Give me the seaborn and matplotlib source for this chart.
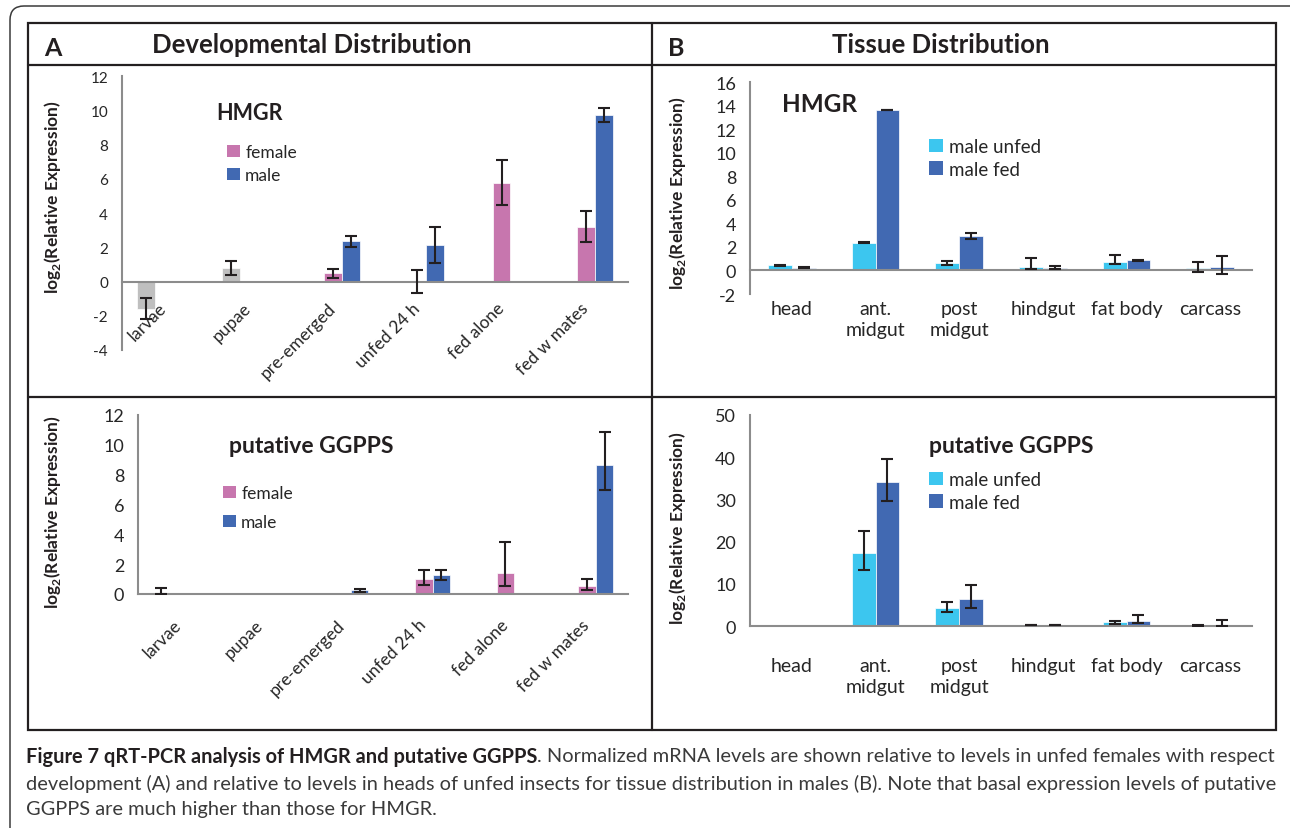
import numpy as np
import pandas as pd
import matplotlib
matplotlib.use('Agg')
import matplotlib.pyplot as plt
from matplotlib.lines import Line2D
from matplotlib.patches import Patch, Rectangle, FancyBboxPatch
from matplotlib.ticker import MultipleLocator
import seaborn as sns

# ---- data ----
dev_cats = ['larvae', 'pupae', 'pre-emerged', 'unfed 24 h', 'fed alone', 'fed w mates']
tis_cats = ['head', 'ant.\nmidgut', 'post\nmidgut', 'hindgut', 'fat body', 'carcass']

# HMGR, developmental (stage-only bars for larvae/pupae, then female/male)
hmgr_dev_stage = [-1.58, 0.78, None, None, None, None]
hmgr_dev_stage_lo = [0.63, 0.40, None, None, None, None]
hmgr_dev_stage_hi = [0.63, 0.41, None, None, None, None]
hmgr_dev_female = [None, None, 0.47, 0.0, 5.76, 3.18]
hmgr_dev_female_lo = [None, None, 0.26, 0.66, 1.30, 0.90]
hmgr_dev_female_hi = [None, None, 0.27, 0.68, 1.32, 0.93]
hmgr_dev_male = [None, None, 2.34, 2.14, 0.0, 9.70]
hmgr_dev_male_lo = [None, None, 0.30, 1.05, None, 0.38]
hmgr_dev_male_hi = [None, None, 0.30, 1.04, None, 0.41]

# putative GGPPS, developmental
ggpps_dev_stage = [0.03, 0.02, None, None, None, None]
ggpps_dev_stage_lo = [0.03, None, None, None, None, None]
ggpps_dev_stage_hi = [0.35, None, None, None, None, None]
ggpps_dev_female = [None, None, 0.02, 1.02, 1.38, 0.52]
ggpps_dev_female_lo = [None, None, None, 0.40, 0.82, 0.25]
ggpps_dev_female_hi = [None, None, None, 0.58, 2.12, 0.48]
ggpps_dev_male = [None, None, 0.24, 1.26, 0.02, 8.68]
ggpps_dev_male_lo = [None, None, 0.10, 0.30, None, 1.68]
ggpps_dev_male_hi = [None, None, 0.10, 0.37, None, 2.16]

# HMGR, tissue
hmgr_tis_unfed = [0.45, 2.35, 0.65, 0.31, 0.71, 0.17]
hmgr_tis_unfed_lo = [0.05, 0.03, 0.15, 0.17, 0.20, 0.34]
hmgr_tis_unfed_hi = [0.05, 0.03, 0.18, 0.77, 0.59, 0.54]
hmgr_tis_fed = [0.23, 13.62, 2.89, 0.20, 0.87, 0.31]
hmgr_tis_fed_lo = [0.03, 0.03, 0.23, 0.09, 0.05, 0.65]
hmgr_tis_fed_hi = [0.03, 0.03, 0.28, 0.17, 0.05, 0.88]

# putative GGPPS, tissue
ggpps_tis_unfed = [0.15, 17.2, 4.34, 0.25, 0.87, 0.10]
ggpps_tis_unfed_lo = [None, 3.87, 0.95, 0.08, 0.30, 0.08]
ggpps_tis_unfed_hi = [None, 5.35, 1.42, 0.08, 0.30, 0.08]
ggpps_tis_fed = [0.15, 34.2, 6.31, 0.25, 1.18, 0.35]
ggpps_tis_fed_lo = [None, 4.5, 1.97, 0.08, 0.55, 0.35]
ggpps_tis_fed_hi = [None, 5.35, 3.31, 0.08, 1.50, 1.00]

grey = '#BFBFBF'
pink = '#C776AE'
blue = '#4169B2'
cyan = '#3CC6EF'
ink = '#231F20'
axis_grey = '#8C8C8C'

sns.set_style('white')
plt.rcParams['font.family'] = ['Lato', 'DejaVu Sans']
plt.rcParams['mathtext.fontset'] = 'custom'
plt.rcParams['mathtext.rm'] = 'Lato'
plt.rcParams['mathtext.bf'] = 'Lato:bold'
plt.rcParams['axes.unicode_minus'] = False

W, H = 1290, 829
fig = plt.figure(figsize=(W / 100, H / 100), dpi=100)


def fx(x):
    return x / W


def fy(y):
    return 1 - y / H


def add_ax(x0, y_top, x1, y_bot):
    return fig.add_axes([x0 / W, 1 - y_bot / H, (x1 - x0) / W, (y_bot - y_top) / H])


def long_table(cats, series):
    rows = []
    for name, vals, lo, hi in series:
        for c, v, l, h in zip(cats, vals, lo, hi):
            if v is None:
                continue
            rows.append({'cat': c, 'series': name, 'value': v,
                         'lo': np.nan if l is None else l,
                         'hi': np.nan if h is None else h})
    return pd.DataFrame(rows)


def draw_panel(ax, df, cats, hue_order, colors, width, ylim, ystep, tick_fs):
    sns.barplot(data=df, x='cat', y='value', hue='series', order=cats,
                hue_order=hue_order, palette=colors, width=width,
                saturation=1, errorbar=None, legend=False, ax=ax,
                edgecolor='white', linewidth=0.5)
    # error bars, one container per series
    for name, cont in zip(hue_order, ax.containers):
        sub = df[df['series'] == name].set_index('cat').reindex(
            [c for c in cats if c in set(df[df['series'] == name]['cat'])])
        for bar, (_, r) in zip(cont, sub.iterrows()):
            if np.isnan(r['lo']):
                continue
            xc = bar.get_x() + bar.get_width() / 2
            ax.errorbar(xc, r['value'], yerr=[[r['lo']], [r['hi']]], fmt='none',
                        ecolor=ink, elinewidth=1.5, capsize=4, capthick=1.5, zorder=5)
    ax.set_xlim(-0.5, len(cats) - 0.5)
    ax.set_ylim(*ylim)
    ax.set_facecolor('none')
    for s in ['top', 'right']:
        ax.spines[s].set_visible(False)
    for s in ['left', 'bottom']:
        ax.spines[s].set_color(axis_grey)
        ax.spines[s].set_linewidth(1.5)
    ax.spines['bottom'].set_position(('data', 0))
    ax.spines['bottom'].set_zorder(1)
    ax.yaxis.set_major_locator(MultipleLocator(ystep))
    ax.yaxis.set_minor_locator(MultipleLocator(ystep / 2))
    ax.tick_params(axis='y', which='major', direction='inout', length=8, width=1.2,
                   color=axis_grey, labelsize=tick_fs, labelcolor='#262626', pad=6)
    ax.tick_params(axis='y', which='minor', direction='in', length=4, width=1.2,
                   color=axis_grey)
    ax.set_xticks(np.arange(-0.5, len(cats)), minor=True)
    ax.tick_params(axis='x', which='minor', direction='out', length=6, width=1.2,
                   color=axis_grey)
    ax.set_xlabel('')
    ax.set_ylabel(r'log$_\mathbf{2}$(Relative Expression)', fontsize=12.5,
                  fontweight='bold', color=ink)


# ---- panel A, HMGR ----
axA1 = add_ax(122, 77, 628, 351)
dfA1 = long_table(dev_cats, [
    ('stage', hmgr_dev_stage, hmgr_dev_stage_lo, hmgr_dev_stage_hi),
    ('female', hmgr_dev_female, hmgr_dev_female_lo, hmgr_dev_female_hi),
    ('male', hmgr_dev_male, hmgr_dev_male_lo, hmgr_dev_male_hi)])
draw_panel(axA1, dfA1, dev_cats, ['stage', 'female', 'male'], [grey, pink, blue],
           0.64, (-4, 12), 2, 11)
axA1.set_xticks(range(len(dev_cats)))
axA1.set_xticklabels(dev_cats, rotation=45, ha='right', va='center',
                     rotation_mode='anchor', fontsize=12.5, color='#262626')
axA1.tick_params(axis='x', which='major', length=0, pad=17)
axA1.yaxis.set_label_coords(-0.117, 0.56)

# ---- panel A, GGPPS ----
axA2 = add_ax(138, 416, 628, 595)
dfA2 = long_table(dev_cats, [
    ('stage', ggpps_dev_stage, ggpps_dev_stage_lo, ggpps_dev_stage_hi),
    ('female', ggpps_dev_female, ggpps_dev_female_lo, ggpps_dev_female_hi),
    ('male', ggpps_dev_male, ggpps_dev_male_lo, ggpps_dev_male_hi)])
draw_panel(axA2, dfA2, dev_cats, ['stage', 'female', 'male'], [grey, pink, blue],
           0.64, (0, 12), 2, 13)
axA2.set_xticks(range(len(dev_cats)))
axA2.set_xticklabels(dev_cats, rotation=45, ha='right', va='center',
                     rotation_mode='anchor', fontsize=12.5, color='#262626')
axA2.tick_params(axis='x', which='major', length=0, pad=20)
axA2.yaxis.set_label_coords(-0.153, 0.46)

# ---- panel B, HMGR ----
axB1 = add_ax(750, 83, 1252, 295)
dfB1 = long_table(tis_cats, [
    ('male unfed', hmgr_tis_unfed, hmgr_tis_unfed_lo, hmgr_tis_unfed_hi),
    ('male fed', hmgr_tis_fed, hmgr_tis_fed_lo, hmgr_tis_fed_hi)])
draw_panel(axB1, dfB1, tis_cats, ['male unfed', 'male fed'], [cyan, blue],
           0.57, (-2, 16), 2, 13)
axB1.set_xticks(range(len(tis_cats)))
axB1.set_xticklabels(tis_cats, fontsize=14, color='#262626', linespacing=1.3)
axB1.tick_params(axis='x', which='major', length=0, pad=21)
axB1.yaxis.set_label_coords(-0.124, 0.48)

# ---- panel B, GGPPS ----
axB2 = add_ax(750, 416, 1252, 627)
dfB2 = long_table(tis_cats, [
    ('male unfed', ggpps_tis_unfed, ggpps_tis_unfed_lo, ggpps_tis_unfed_hi),
    ('male fed', ggpps_tis_fed, ggpps_tis_fed_lo, ggpps_tis_fed_hi)])
draw_panel(axB2, dfB2, tis_cats, ['male unfed', 'male fed'], [cyan, blue],
           0.57, (0, 50), 10, 13)
axB2.set_xticks(range(len(tis_cats)))
axB2.set_xticklabels(tis_cats, fontsize=14, color='#262626', linespacing=1.3)
axB2.tick_params(axis='x', which='major', length=0, pad=22)
axB2.yaxis.set_label_coords(-0.124, 0.47)

# ---- gene titles inside panels ----
fig.text(fx(249), fy(114), 'HMGR', fontsize=15.5, fontweight='bold', color=ink,
         ha='center', va='center')
fig.text(fx(311), fy(447), 'putative GGPPS', fontsize=16.5, fontweight='bold', color=ink,
         ha='center', va='center')
fig.text(fx(820), fy(105), 'HMGR', fontsize=17.5, fontweight='bold', color=ink,
         ha='center', va='center')
fig.text(fx(1011), fy(447), 'putative GGPPS', fontsize=16.5, fontweight='bold', color=ink,
         ha='center', va='center')


# ---- legends ----
def add_legend(ax, labels, colors, x, y, spacing, fs):
    handles = [Patch(facecolor=c, edgecolor='none') for c in colors]
    ax.legend(handles, labels, loc='upper left', bbox_to_anchor=(fx(x), fy(y)),
              bbox_transform=fig.transFigure, frameon=False, borderpad=0,
              borderaxespad=0, handlelength=0.75, handleheight=0.75,
              handletextpad=0.3, labelspacing=spacing, fontsize=fs,
              labelcolor='#262626')


add_legend(axA1, ['female', 'male'], [pink, blue], 227, 145, 0.4, 12.5)
add_legend(axA2, ['female', 'male'], [pink, blue], 223, 486, 0.75, 12.5)
add_legend(axB1, ['male unfed', 'male fed'], [cyan, blue], 929, 139, 0.3, 13.5)
add_legend(axB2, ['male unfed', 'male fed'], [cyan, blue], 929, 472, 0.3, 13.5)

# ---- frames and headers ----
fig.add_artist(FancyBboxPatch((fx(10), fy(860)), (1330 - 10) / W, (860 - 7) / H,
                              boxstyle='round,pad=0,rounding_size=%f' % (14 / W),
                              mutation_aspect=W / H, transform=fig.transFigure,
                              fill=False, edgecolor='#3a3a3a', linewidth=1.1))
fig.add_artist(Rectangle((fx(28), fy(731)), (1276 - 28) / W, (731 - 24) / H,
                         transform=fig.transFigure, fill=False, edgecolor=ink,
                         linewidth=1.6))
for (x0, y0, x1, y1) in [(28, 66, 1276, 66), (28, 398, 1276, 398), (652, 24, 652, 731)]:
    fig.add_artist(Line2D([fx(x0), fx(x1)], [fy(y0), fy(y1)], transform=fig.transFigure,
                          color=ink, linewidth=1.6))

fig.text(fx(53), fy(48), 'A', fontsize=18, fontweight='bold', color=ink,
         ha='center', va='center')
fig.text(fx(312), fy(45), 'Developmental Distribution', fontsize=18.5, fontweight='bold',
         color=ink, ha='center', va='center')
fig.text(fx(676), fy(48), 'B', fontsize=18, fontweight='bold', color=ink,
         ha='center', va='center')
fig.text(fx(941), fy(45), 'Tissue Distribution', fontsize=18.5, fontweight='bold',
         color=ink, ha='center', va='center')

# ---- caption ----
cap_bold = 'Figure 7 qRT-PCR analysis of HMGR and putative GGPPS'
cap_line1 = '. Normalized mRNA levels are shown relative to levels in unfed females with respect'
cap_line2 = ('development (A) and relative to levels in heads of unfed insects for tissue '
             'distribution in males (B). Note that basal expression levels of putative')
cap_line3 = 'GGPPS are much higher than those for HMGR.'

renderer = fig.canvas.get_renderer()
t_b = fig.text(fx(26), fy(757), cap_bold, fontsize=12, fontweight='bold', color=ink,
               ha='left', va='center')
t_1 = fig.text(fx(26), fy(757), cap_line1, fontsize=12, color='#3a3a3a',
               ha='left', va='center')
t_2 = fig.text(fx(26), fy(784), cap_line2, fontsize=12, color='#3a3a3a',
               ha='left', va='center')
t_3 = fig.text(fx(26), fy(810), cap_line3, fontsize=12, color='#3a3a3a',
               ha='left', va='center')
wb = t_b.get_window_extent(renderer).width
w1 = t_1.get_window_extent(renderer).width
w2 = t_2.get_window_extent(renderer).width
fs = 12 * 1252 / max(wb + w1, w2)
for t in (t_b, t_1, t_2, t_3):
    t.set_fontsize(fs)
wb = t_b.get_window_extent(renderer).width
t_1.set_x(fx(26 + wb))

fig.savefig('out.png', dpi=100)
